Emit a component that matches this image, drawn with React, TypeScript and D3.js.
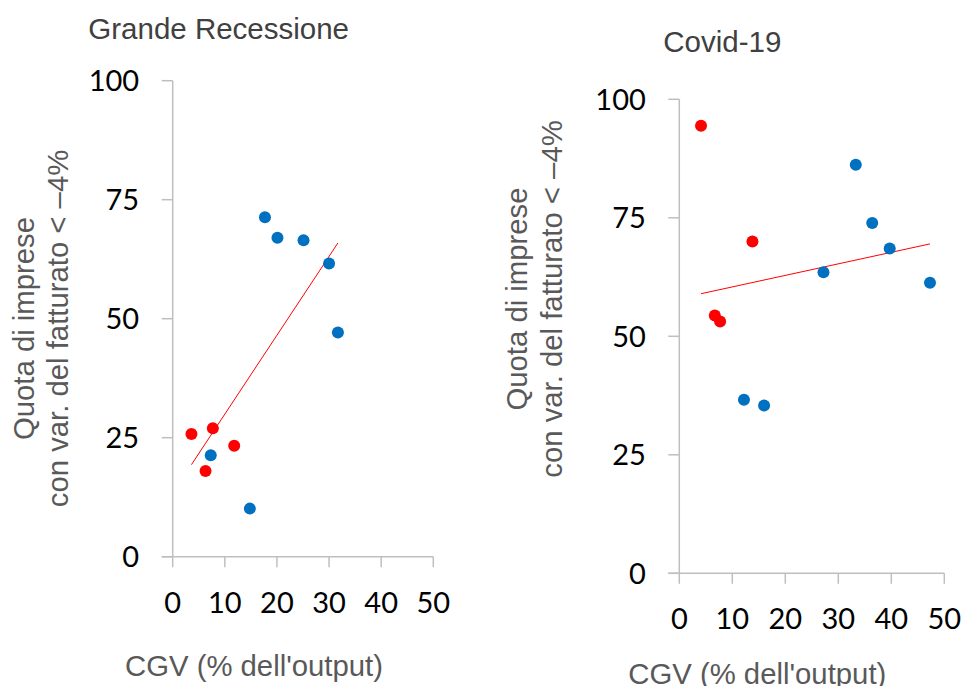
import React from "react";
import * as d3 from "d3";

// ---- Data ----
const xTicks = [0, 10, 20, 30, 40, 50];
const yTicks = [0, 25, 50, 75, 100];

// Grande Recessione
const grBlueX = [17.7, 20.1, 25.1, 30.0, 31.7, 7.3, 14.8];
const grBlueY = [71.3, 67.0, 66.5, 61.6, 47.1, 21.3, 10.1];
const grRedX = [3.6, 7.7, 11.8, 6.3];
const grRedY = [25.8, 27.0, 23.3, 18.0];

// Covid-19
const cvBlueX = [33.3, 36.4, 39.7, 27.2, 47.3, 12.2, 16.0];
const cvBlueY = [86.2, 73.9, 68.5, 63.5, 61.3, 36.6, 35.4];
const cvRedX = [4.1, 13.8, 6.7, 7.7];
const cvRedY = [94.4, 70.0, 54.4, 53.1];

const titles = ["Grande Recessione", "Covid-19"];
const xLabel = "CGV (% dell'output)";
const yLabel1 = "Quota di imprese";
const yLabel2 = "con var. del fatturato < \u20134%";

const BLUE = "#0070C0";
const RED = "#FF0000";
const AXIS = "#BFBFBF";
const TITLE_FONT = "'Liberation Sans', Arial, sans-serif";
const TICK_FONT = "Lato, 'Liberation Sans', sans-serif";

type Pt = { x: number; y: number; c: string };

function zipPts(xs: number[], ys: number[], c: string): Pt[] {
  return xs.map((x, i) => ({ x, y: ys[i], c }));
}

function ols(pts: Pt[]) {
  const mx = d3.mean(pts, (p) => p.x) as number;
  const my = d3.mean(pts, (p) => p.y) as number;
  const sxy = d3.sum(pts, (p) => (p.x - mx) * (p.y - my));
  const sxx = d3.sum(pts, (p) => (p.x - mx) ** 2);
  const b = sxy / sxx;
  const a = my - b * mx;
  const [x0, x1] = d3.extent(pts, (p) => p.x) as [number, number];
  return [
    { x: x0, y: a + b * x0 },
    { x: x1, y: a + b * x1 },
  ];
}

type PanelProps = {
  title: string;
  pts: Pt[];
  xRange: [number, number];
  yRange: [number, number];
  titlePos: [number, number];
  xLabelPos: [number, number];
  yLabelX: [number, number];
  yLabelCY: number;
};

function Panel(p: PanelProps) {
  const x = d3.scaleLinear().domain([0, 50]).range(p.xRange);
  const y = d3.scaleLinear().domain([0, 100]).range(p.yRange);
  const ax = p.xRange[0];
  const ay = p.yRange[0];
  const trend = ols(p.pts);
  const line = d3
    .line<{ x: number; y: number }>()
    .x((d) => x(d.x))
    .y((d) => y(d.y));
  return (
    <g>
      <text
        x={p.titlePos[0]}
        y={p.titlePos[1]}
        fontFamily={TITLE_FONT}
        fontSize={29.5}
        fill="#404040"
      >
        {p.title}
      </text>
      {/* axes */}
      <line x1={ax} x2={ax} y1={y(100)} y2={ay} stroke={AXIS} strokeWidth={1.5} />
      <line x1={ax - 11} x2={x(50)} y1={ay} y2={ay} stroke={AXIS} strokeWidth={1.5} />
      {yTicks.map((t) => (
        <g key={"y" + t}>
          <line x1={ax - 11} x2={ax} y1={y(t)} y2={y(t)} stroke={AXIS} strokeWidth={1.5} />
          <text
            x={ax - 33.5}
            y={y(t) + 10.5}
            textAnchor="end"
            fontFamily={TICK_FONT}
            fontSize={29}
            fill="#000"
          >
            {t}
          </text>
        </g>
      ))}
      {xTicks.map((t) => (
        <g key={"x" + t}>
          <line x1={x(t)} x2={x(t)} y1={ay} y2={ay + 10.5} stroke={AXIS} strokeWidth={1.5} />
          <text
            x={x(t)}
            y={ay + 56}
            textAnchor="middle"
            fontFamily={TICK_FONT}
            fontSize={29}
            fill="#000"
          >
            {t}
          </text>
        </g>
      ))}
      <text
        x={p.xLabelPos[0]}
        y={p.xLabelPos[1]}
        fontFamily={TITLE_FONT}
        fontSize={29.3}
        fill="#595959"
      >
        {xLabel}
      </text>
      {[yLabel1, yLabel2].map((s, i) => (
        <text
          key={s}
          transform={`translate(${p.yLabelX[i]},${p.yLabelCY}) rotate(-90)`}
          textAnchor="middle"
          fontFamily={TITLE_FONT}
          fontSize={29.3}
          fill="#595959"
        >
          {s}
        </text>
      ))}
      <path d={line(trend) || ""} stroke={RED} strokeWidth={1} fill="none" />
      {p.pts.map((d, i) => (
        <circle key={i} cx={x(d.x)} cy={y(d.y)} r={6} fill={d.c} />
      ))}
    </g>
  );
}

export default function App() {
  const grPts = [...zipPts(grBlueX, grBlueY, BLUE), ...zipPts(grRedX, grRedY, RED)];
  const cvPts = [...zipPts(cvBlueX, cvBlueY, BLUE), ...zipPts(cvRedX, cvRedY, RED)];
  return (
    <svg
      width={965}
      height={686}
      style={{ position: "absolute", left: 0, top: 0, background: "#fff" }}
    >
      <rect width={965} height={686} fill="#fff" />
      <Panel
        title={titles[0]}
        pts={grPts}
        xRange={[172.7, 433.3]}
        yRange={[556.7, 80.7]}
        titlePos={[88.3, 39.3]}
        xLabelPos={[125, 676]}
        yLabelX={[33.5, 68]}
        yLabelCY={328.5}
      />
      <Panel
        title={titles[1]}
        pts={cvPts}
        xRange={[679.3, 944.3]}
        yRange={[573.3, 99.3]}
        titlePos={[663.3, 51.7]}
        xLabelPos={[628.3, 684]}
        yLabelX={[527, 562]}
        yLabelCY={299}
      />
    </svg>
  );
}
